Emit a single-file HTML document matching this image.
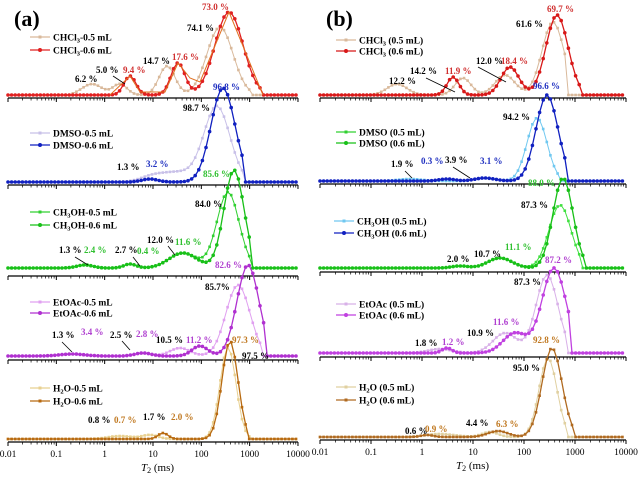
<!DOCTYPE html>
<html><head><meta charset="utf-8"><style>
body{margin:0;background:#fff}
svg{display:block;font-family:"Liberation Serif",serif}
</style></head><body>
<svg id="s" width="640" height="478" viewBox="0 0 640 478" xmlns="http://www.w3.org/2000/svg">
<text x="14" y="26" font-size="22" font-weight="bold">(a)</text>
<text x="326" y="26" font-size="22" font-weight="bold">(b)</text>
</svg>
<script>
const S=document.getElementById('s');let out='';
function ax(x0,pd,y,last){
 out+=`<line x1="${x0}" y1="${y}" x2="${x0+6*pd}" y2="${y}" stroke="#000" stroke-width="1.2"/>`;
 for(let d=0;d<=6;d++){const x=x0+d*pd;out+=`<line x1="${x}" y1="${y}" x2="${x}" y2="${y+4}" stroke="#000"/>`;
  if(d<6)for(let k=2;k<10;k++){const xx=x+Math.log10(k)*pd;out+=`<line x1="${xx}" y1="${y}" x2="${xx}" y2="${y+2.5}" stroke="#000" stroke-width=".7"/>`;}
  if(last){const l=['0.01','0.1','1','10','100','1000','10000'][d];out+=`<text x="${x}" y="${y+15}" font-size="9.5" text-anchor="middle">${l}</text>`;}}
}
function curve(x0,x1,base,peaks,col,mk,sw,lo,hi){
 let pts=[];for(let x=x0;x<=x1;x+=3.6){let h=0;if(x>=lo&&x<=hi)for(const p of peaks){h+=p[1]*Math.exp(-((x-p[0])**2)/(2*p[2]*p[2]));}pts.push([x,base-h]);}
 out+=`<polyline fill="none" stroke="${col}" stroke-width="${sw}" points="${pts.map(p=>p[0].toFixed(1)+','+p[1].toFixed(1)).join(' ')}"/>`;
 for(const p of pts){out+=mk=='c'?`<circle cx="${p[0].toFixed(1)}" cy="${p[1].toFixed(1)}" r="1.8" fill="${col}"/>`:`<rect x="${(p[0]-1.3).toFixed(1)}" y="${(p[1]-1.3).toFixed(1)}" width="2.6" height="2.6" fill="${col}"/>`;}
}
function leg(x,y,col,mk,txt){out+=`<line x1="${x}" y1="${y}" x2="${x+20}" y2="${y}" stroke="${col}" stroke-width="1.3"/>`+(mk=='c'?`<circle cx="${x+10}" cy="${y}" r="2" fill="${col}"/>`:`<rect x="${x+8.5}" y="${y-1.5}" width="3" height="3" fill="${col}"/>`)+`<text x="${x+23}" y="${y+3.5}" font-size="9.5" font-weight="bold">${txt}</text>`;}
function t(x,y,s,c){out+=`<text x="${x}" y="${y}" font-size="9" font-weight="bold" fill="${c||'#000'}">${s}</text>`;}
function ar(x1,y1,x2,y2){out+=`<line x1="${x1}" y1="${y1}" x2="${x2}" y2="${y2}" stroke="#000" stroke-width=".8"/>`;}
const A=[8,298],B=[320,626];
// panel a
[98,185,276,360,442].forEach((y,i)=>ax(8,48.33,y,i==4));
[98,184,272,357,440].forEach((y,i)=>ax(320,51,y,i==4));
// a CHCl3
curve(8,297,95,[[92,11,10],[120,11,7],[167,29,8],[220,68,13]],'#d9b99b','s',1,70,252);
curve(8,297,95,[[130,19,6],[178,32,7],[229,83,14]],'#e02020','c',1.3,110,263);
out+=`<polyline fill="none" stroke="#e07020" stroke-width="1" points="110,95 130,76 140,92 165,92 178,63 190,78 200,82 229,12 263,95"/>`;
// a DMSO
curve(8,297,182,[[150,2.5,10],[175,10,20],[217,75,13]],'#c8c0e8','s',1,120,245);
curve(8,297,182,[[150,3,8],[223,94,12]],'#1020c0','c',1.3,100,243);
// a CH3OH
curve(8,297,268,[[85,3,8],[130,4,6],[183,15,14],[228,76,11]],'#30d030','s',1,40,250);
curve(8,297,268,[[85,3,8],[130,4,6],[183,15,14],[234,98,10]],'#18c018','c',1.3,40,250);
// a EtOAc
curve(8,297,356,[[72,2,12],[143,3,8],[180,8,10],[238,71,12]],'#e0a0f0','s',1,30,262);
curve(8,297,356,[[72,2,12],[143,3,8],[200,10,8],[248,91,11]],'#b030d0','c',1.3,30,266);
// a H2O
curve(8,297,439,[[120,3,12],[150,4,8],[228,92,8]],'#e8d090','s',1,60,250);
curve(8,297,439,[[163,6,5],[230,98,8]],'#b86a10','s',1.3,60,248);
// b CHCl3
curve(320,626,95,[[397,11,10],[463,17,8],[505,20,10],[553,73,11]],'#d9b99b','s',1,360,566);
curve(320,626,95,[[453,18,6],[510,28,9],[557,80,11]],'#d81818','c',1.3,430,581);
// b DMSO
curve(320,626,181,[[410,2,12],[485,3,10],[537,63,10]],'#70c8f0','s',1,360,560);
curve(320,626,181,[[447,2,8],[485,3,10],[547,86,11]],'#1020c0','c',1.3,380,568);
// b CH3OH
curve(320,626,268,[[460,2,8],[500,10,12],[560,63,11]],'#40e040','s',1,420,582);
curve(320,626,268,[[460,2,8],[500,10,12],[563,90,10]],'#18c018','c',1.3,420,584);
// b EtOAc
curve(320,626,353,[[440,4,12],[505,20,12],[547,78,11]],'#d8b0e8','s',1,400,565);
curve(320,626,353,[[447,5,5],[515,20,12],[554,85,12]],'#c040e0','c',1.3,400,572);
// b H2O
curve(320,626,437,[[440,3,15],[490,5,8],[548,79,9]],'#e0d0a0','s',1,380,567);
curve(320,626,437,[[427,2,6],[498,6,10],[552,89,10]],'#b06a20','s',1.3,410,575);
// legends a
leg(30,37,'#d9b99b','s','CHCl<tspan font-size="6.5" dy="2">3</tspan><tspan dy="-2">-0.5 mL</tspan>');
leg(30,50,'#e02020','c','CHCl<tspan font-size="6.5" dy="2">3</tspan><tspan dy="-2">-0.6 mL</tspan>');
leg(30,133,'#c8c0e8','s','DMSO-0.5 mL');leg(30,145,'#1020c0','c','DMSO-0.6 mL');
leg(30,212,'#30d030','s','CH<tspan font-size="6.5" dy="2">3</tspan><tspan dy="-2">OH-0.5 mL</tspan>');
leg(30,225,'#18c018','c','CH<tspan font-size="6.5" dy="2">3</tspan><tspan dy="-2">OH-0.6 mL</tspan>');
leg(30,302,'#e0a0f0','s','EtOAc-0.5 mL');leg(30,313,'#b030d0','c','EtOAc-0.6 mL');
leg(30,388,'#e8d090','s','H<tspan font-size="6.5" dy="2">2</tspan><tspan dy="-2">O-0.5 mL</tspan>');
leg(30,401,'#b86a10','s','H<tspan font-size="6.5" dy="2">2</tspan><tspan dy="-2">O-0.6 mL</tspan>');
// legends b
leg(336,40,'#d9b99b','s','CHCl<tspan font-size="6.5" dy="2">3</tspan><tspan dy="-2"> (0.5 mL)</tspan>');
leg(336,51,'#d81818','c','CHCl<tspan font-size="6.5" dy="2">3</tspan><tspan dy="-2"> (0.6 mL)</tspan>');
leg(336,132,'#30d030','s','DMSO (0.5 mL)');leg(336,143,'#18c018','c','DMSO (0.6 mL)');
leg(334,221,'#70c8f0','s','CH<tspan font-size="6.5" dy="2">3</tspan><tspan dy="-2">OH (0.5 mL)</tspan>');
leg(334,233,'#1020c0','c','CH<tspan font-size="6.5" dy="2">3</tspan><tspan dy="-2">OH (0.6 mL)</tspan>');
leg(336,304,'#d8b0e8','s','EtOAc (0.5 mL)');leg(336,315,'#c040e0','c','EtOAc (0.6 mL)');
leg(336,387,'#e0d0a0','s','H<tspan font-size="6.5" dy="2">2</tspan><tspan dy="-2">O (0.5 mL)</tspan>');
leg(336,400,'#b06a20','s','H<tspan font-size="6.5" dy="2">2</tspan><tspan dy="-2">O (0.6 mL)</tspan>');
// labels a
const R='#d03030',Bl='#2030c0',G='#30c030',P='#b040d0',O='#c07820';
t(202,10,'73.0 %',R);t(187,31,'74.1 %');t(143,64,'14.7 %');t(172,60,'17.6 %',R);
t(96,73,'5.0 %');t(123,73,'9.4 %',R);t(75,82,'6.2 %');ar(113,76,125,84);
t(213,90,'96.8 %',Bl);t(183,111,'98.7 %');t(117,170,'1.3 %');t(146,167,'3.2 %',Bl);
t(203,177,'85.6 %',G);t(195,207,'84.0 %');t(147,243,'12.0 %');t(175,245,'11.6 %',G);
t(59,253,'1.3 %');t(84,253,'2.4 %',G);t(115,253,'2.7 %');t(137,254,'0.4 %',G);
ar(75,257,88,265);ar(133,257,140,266);ar(168,246,175,255);
t(215,268,'82.6 %',P);t(205,290,'85.7%');t(52,338,'1.3 %');t(81,335,'3.4 %',P);
t(110,338,'2.5 %');t(136,337,'2.8 %',P);t(156,343,'10.5 %');t(186,343,'11.2 %',P);
ar(62,342,72,352);ar(122,341,130,350);
t(232,343,'97.3 %',O);t(242,359,'97.5 %');
t(88,423,'0.8 %');t(114,423,'0.7 %',O);t(143,420,'1.7 %');t(171,420,'2.0 %',O);
// labels b
t(547,12,'69.7 %',R);t(516,27,'61.6 %');t(476,64,'12.0 %');t(501,64,'18.4 %',R);
t(410,74,'14.2 %');t(445,74,'11.9 %',R);t(389,84,'12.2 %');ar(426,78,455,92);ar(478,67,506,82);
t(533,89,'96.6 %',Bl);t(503,120,'94.2 %');
t(391,167,'1.9 %');t(421,164,'0.3 %',Bl);t(445,163,'3.9 %');t(480,164,'3.1 %',Bl);
ar(405,171,412,178);ar(453,167,470,178);
t(528,186,'88.0 %',G);t(521,208,'87.3 %');t(447,262,'2.0 %');t(474,257,'10.7 %');t(505,250,'11.1 %',G);
t(545,263,'87.2 %',P);t(514,285,'87.3 %');t(493,325,'11.6 %',P);t(467,336,'10.9 %');
t(415,346,'1.8 %');t(442,345,'1.2 %',P);
t(533,343,'92.8 %',O);t(513,371,'95.0 %');t(466,426,'4.4 %');t(496,427,'6.3 %',O);
t(405,434,'0.6 %');t(425,432,'0.9 %',O);
out+=`<text x="141" y="471" font-size="11"><tspan font-style="italic">T</tspan><tspan font-size="8" dy="2">2</tspan><tspan dy="-2"> (ms)</tspan></text>`;
out+=`<text x="456" y="469" font-size="11"><tspan font-style="italic">T</tspan><tspan font-size="8" dy="2">2</tspan><tspan dy="-2"> (ms)</tspan></text>`;
S.insertAdjacentHTML('beforeend',out);
</script>
</body></html>
